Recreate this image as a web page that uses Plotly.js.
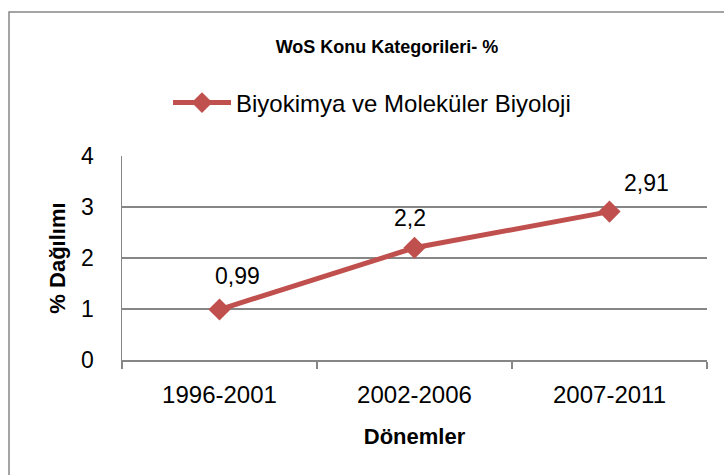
<!DOCTYPE html>
<html>
<head>
<meta charset="utf-8">
<script src="https://cdn.plot.ly/plotly-3.0.1.min.js"></script>
<style>
  html, body { margin: 0; padding: 0; background: #ffffff; }
  #chart { width: 724px; height: 475px; }
</style>
</head>
<body>
<div id="chart"></div>
<script>
// ---- data ----
const categories = ["1996-2001", "2002-2006", "2007-2011"];
const seriesName = "Biyokimya ve Moleküler Biyoloji";
const values = [0.99, 2.2, 2.91];
const yTicks = [0, 1, 2, 3, 4];
const chartTitle = "WoS Konu Kategorileri- %";
const xTitle = "Dönemler";
const yTitle = "% Dağılımı";

// ---- styling ----
const FONT = "Liberation Sans, Arial, sans-serif";
const RED = "#C0504D";
const GRAY = "#868686";

const W = 724, H = 475;
const M = { l: 122, r: 17, t: 156, b: 115 };
const pw = W - M.l - M.r, ph = H - M.t - M.b;
const px = v => (v - M.l) / pw;           // pixel x -> paper x
const py = v => 1 - (v - M.t) / ph;       // pixel y -> paper y

const labelShift = [[18, 34], [-5, 30], [37, 29]];
const annotations = values.map((v, i) => ({
  x: categories[i], y: v, xref: "x", yref: "y",
  text: String(v).replace(".", ","),
  showarrow: false,
  xshift: labelShift[i][0], yshift: labelShift[i][1],
  font: { family: FONT, size: 23, color: "#000" }
}));

const trace = {
  type: "scatter", mode: "lines+markers",
  x: categories, y: values, name: seriesName,
  line: { color: RED, width: 5 },
  marker: { symbol: "diamond", size: 17, color: RED },
  cliponaxis: false
};

const layout = {
  width: W, height: H,
  margin: M,
  paper_bgcolor: "#ffffff", plot_bgcolor: "#ffffff",
  font: { family: FONT, color: "#000" },
  title: {
    text: "<b>" + chartTitle + "</b>",
    font: { family: FONT, size: 18, color: "#000" },
    x: 387 / W, xanchor: "center", xref: "container",
    y: 1 - 47 / H, yanchor: "middle", yref: "container"
  },
  showlegend: true,
  legend: {
    orientation: "h",
    x: px(168), xanchor: "left",
    y: py(103), yanchor: "middle",
    font: { family: FONT, size: 24, color: "#000" },
    itemwidth: 58,
    bgcolor: "rgba(0,0,0,0)"
  },
  xaxis: {
    type: "category",
    range: [-0.5, 2.5],
    showline: true, linecolor: GRAY, linewidth: 1.5,
    ticks: "outside", tickson: "boundaries", ticklen: 7, tickcolor: GRAY, tickwidth: 1.5,
    ticklabelstandoff: 13,
    showgrid: false, zeroline: false,
    tickfont: { family: FONT, size: 24, color: "#000" },
    title: { text: "<b>" + xTitle + "</b>", font: { family: FONT, size: 22, color: "#000" }, standoff: 21 },
    automargin: false
  },
  yaxis: {
    range: [0, 4],
    tickvals: yTicks,
    showline: true, linecolor: GRAY, linewidth: 1.5,
    showgrid: true, gridcolor: GRAY, gridwidth: 1.5,
    zeroline: false,
    ticks: "",
    ticklabelstandoff: 22,
    tickfont: { family: FONT, size: 23, color: "#000" },
    title: { text: "<b>" + yTitle + "</b>", font: { family: FONT, size: 22, color: "#000" }, standoff: 9 },
    automargin: false
  },
  annotations: annotations,
  shapes: [{
    type: "rect", xref: "paper", yref: "paper",
    x0: px(9), x1: px(W + 10), y0: py(H + 10), y1: py(12),
    line: { color: GRAY, width: 1.5 }, fillcolor: "rgba(0,0,0,0)", layer: "below"
  }]
};

Plotly.newPlot("chart", [trace], layout, { displayModeBar: false, staticPlot: true });
</script>
</body>
</html>
